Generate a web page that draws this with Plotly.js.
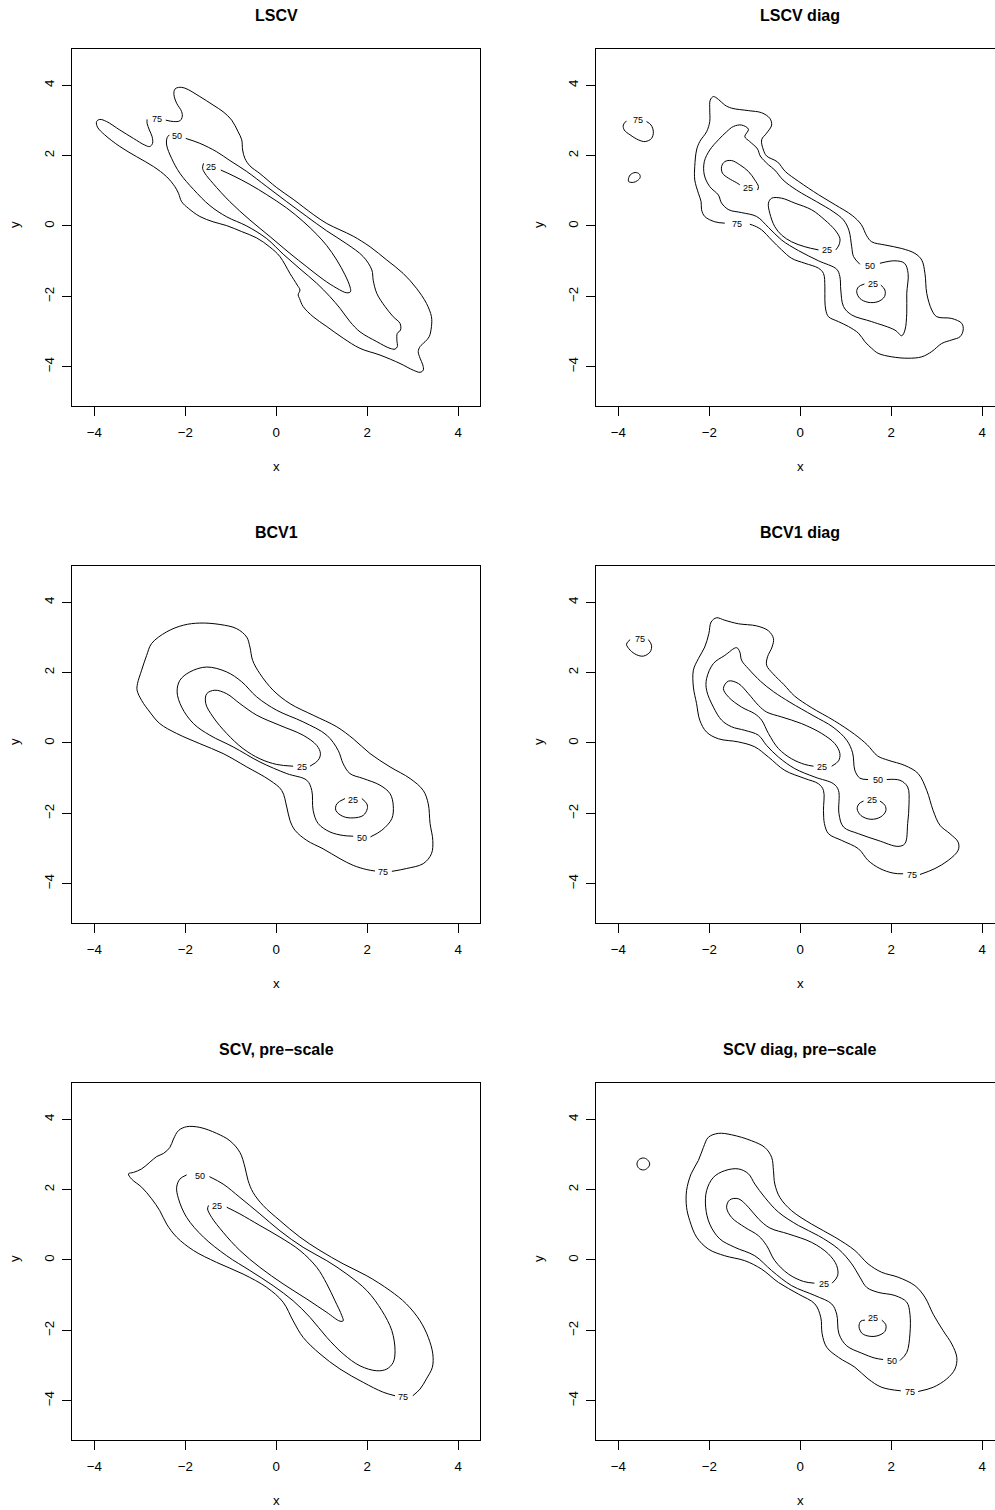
<!DOCTYPE html>
<html>
<head>
<meta charset="utf-8">
<script src="https://cdn.plot.ly/plotly-3.0.1.min.js"></script>
<style>html,body{margin:0;padding:0;background:#fff;}#chart{width:995px;height:1510px;}</style>
</head>
<body>
<div id="chart"></div>
<script>
// ---------- Panel titles and tick values ----------
const panelTitles = ["LSCV", "LSCV diag", "BCV1", "BCV1 diag", "SCV, pre\u2212scale", "SCV diag, pre\u2212scale"];
const tickValues = [-4, -2, 0, 2, 4];

// ---------- LSCV ----------
const lscv75x = [-2.43,-2.26,-2.12,-2.07,-2.08,-2.19,-2.25,-2.23,-2.15,-2.01,-1.68,-1.39,-1.17,-0.98,-0.84,-0.76,-0.74,-0.69,-0.58,-0.36,0.01,0.37,0.81,1.11,1.40,1.69,2.06,2.43,2.79,3.08,3.30,3.41,3.41,3.36,3.27,3.16,3.12,3.16,3.22,3.23,3.16,3.01,2.72,2.28,1.84,1.47,1.11,0.81,0.59,0.51,0.48,0.52,0.46,0.30,0.08,-0.14,-0.43,-0.76,-1.09,-1.39,-1.68,-1.93,-2.08,-2.15,-2.23,-2.41,-2.70,-3.07,-3.44,-3.77,-3.93,-3.95,-3.88,-3.73,-3.44,-3.14,-2.89,-2.78,-2.72,-2.73,-2.79,-2.84,-2.84];
const lscv75y = [3.01,2.97,2.99,3.09,3.25,3.49,3.73,3.89,3.94,3.92,3.68,3.44,3.25,3.01,2.68,2.45,2.16,1.92,1.71,1.49,1.09,0.76,0.33,0.07,-0.11,-0.29,-0.59,-0.97,-1.35,-1.77,-2.20,-2.58,-2.86,-3.15,-3.29,-3.43,-3.57,-3.76,-3.95,-4.10,-4.16,-4.10,-3.91,-3.67,-3.48,-3.19,-2.86,-2.58,-2.29,-2.06,-1.96,-1.82,-1.68,-1.35,-0.87,-0.60,-0.34,-0.16,0.01,0.12,0.27,0.50,0.69,0.93,1.12,1.40,1.69,1.97,2.26,2.59,2.81,2.97,3.03,2.97,2.73,2.49,2.30,2.26,2.35,2.54,2.73,2.92,3.03];
const lscv50x = [-1.99,-1.68,-1.31,-1.02,-0.65,-0.21,0.23,0.67,1.11,1.55,1.91,2.10,2.13,2.21,2.39,2.57,2.72,2.73,2.66,2.65,2.66,2.61,2.50,2.21,1.84,1.62,1.40,1.18,0.89,0.52,0.15,-0.21,-0.65,-1.09,-1.46,-1.82,-2.12,-2.30,-2.41,-2.40,-2.35];
const lscv50y = [2.49,2.35,2.11,1.86,1.55,1.12,0.69,0.27,-0.14,-0.51,-0.87,-1.25,-1.54,-1.92,-2.29,-2.58,-2.77,-2.96,-3.05,-3.24,-3.43,-3.50,-3.48,-3.29,-3.01,-2.72,-2.34,-2.01,-1.63,-1.22,-0.80,-0.36,0.00,0.26,0.58,1.04,1.50,1.92,2.30,2.51,2.59];
const lscv25x = [-1.22,-0.95,-0.58,-0.21,0.23,0.59,0.89,1.11,1.33,1.51,1.62,1.63,1.55,1.33,1.03,0.67,0.30,-0.14,-0.58,-1.02,-1.39,-1.57,-1.62,-1.60];
const lscv25y = [1.59,1.43,1.18,0.89,0.51,0.13,-0.24,-0.56,-0.97,-1.39,-1.73,-1.87,-1.90,-1.77,-1.52,-1.16,-0.78,-0.30,0.17,0.69,1.21,1.50,1.64,1.78];
const lscvLabelText = ["75","50","25"];
const lscvLabelX = [-2.63,-2.19,-1.44];
const lscvLabelY = [3.04,2.55,1.68];

// ---------- LSCV diag ----------
const lscvd75ax = [-1.11,-1.00,-0.85,-0.63,-0.41,-0.19,0.10,0.40,0.51,0.54,0.54,0.56,0.62,0.84,1.06,1.28,1.42,1.57,1.71,2.01,2.37,2.67,2.89,3.11,3.33,3.51,3.58,3.55,3.33,3.00,2.89,2.78,2.74,2.67,2.52,2.23,1.86,1.57,1.46,1.34,1.14,0.77,0.40,-0.04,-0.33,-0.50,-0.74,-0.81,-0.85,-0.74,-0.63,-0.67,-0.85,-1.14,-1.51,-1.66,-1.80,-1.91,-1.98,-1.99,-1.99,-2.06,-2.21,-2.28,-2.32,-2.32,-2.24,-2.18,-2.17,-2.10,-1.88,-1.66];
const lscvd75ay = [0.05,0.00,-0.11,-0.40,-0.68,-0.92,-1.06,-1.20,-1.35,-1.73,-2.10,-2.39,-2.58,-2.72,-2.86,-3.05,-3.29,-3.48,-3.62,-3.72,-3.76,-3.72,-3.57,-3.34,-3.24,-3.15,-2.96,-2.77,-2.63,-2.58,-2.39,-1.92,-1.35,-0.97,-0.78,-0.64,-0.54,-0.45,-0.28,0.04,0.30,0.60,0.89,1.27,1.55,1.82,1.99,2.16,2.45,2.64,2.87,3.06,3.22,3.28,3.35,3.44,3.60,3.68,3.58,3.30,2.97,2.68,2.40,2.16,1.69,1.31,0.93,0.69,0.46,0.27,0.12,0.08];
const lscvd75bx = [-3.38,-3.28,-3.23,-3.27,-3.41,-3.56,-3.74,-3.87,-3.89,-3.82];
const lscvd75by = [2.97,2.87,2.68,2.49,2.40,2.45,2.59,2.73,2.87,2.99];
const lscvd75cx = [-3.78,-3.74,-3.63,-3.54,-3.52,-3.58,-3.67,-3.77,-3.78];
const lscvd75cy = [1.31,1.45,1.52,1.48,1.38,1.29,1.24,1.26,1.31];
const lscvd50x = [1.75,2.08,2.29,2.37,2.34,2.34,2.30,2.23,2.08,1.57,1.13,0.95,0.89,0.87,0.80,0.40,-0.04,-0.41,-0.70,-0.96,-1.29,-1.57,-1.73,-1.80,-1.99,-2.11,-2.11,-1.99,-1.80,-1.62,-1.47,-1.29,-1.14,-1.22,-1.11,-0.94,-0.88,-0.70,-0.56,-0.38,-0.08,0.36,0.72,0.95,1.07,1.13,1.17,1.31];
const lscvd50y = [-1.06,-0.99,-1.06,-1.35,-1.92,-2.48,-2.96,-3.12,-2.96,-2.72,-2.53,-2.29,-1.82,-1.44,-1.23,-0.99,-0.70,-0.40,-0.04,0.27,0.38,0.46,0.65,0.88,1.12,1.45,1.83,2.16,2.45,2.68,2.83,2.87,2.75,2.54,2.40,2.19,1.99,1.74,1.59,1.31,1.02,0.69,0.41,0.17,-0.13,-0.59,-0.87,-1.09];
const lscvd25ax = [-0.94,-0.92,-1.00,-1.14,-1.33,-1.51,-1.66,-1.73,-1.71,-1.58,-1.40,-1.33];
const lscvd25ay = [1.02,1.12,1.31,1.55,1.74,1.86,1.83,1.69,1.50,1.36,1.23,1.17];
const lscvd25bx = [0.78,0.85,0.87,0.76,0.54,0.25,-0.12,-0.41,-0.63,-0.70,-0.67,-0.56,-0.41,-0.19,0.10,0.40];
const lscvd25by = [-0.68,-0.54,-0.35,-0.11,0.17,0.46,0.65,0.79,0.79,0.65,0.36,-0.02,-0.26,-0.45,-0.59,-0.68];
const lscvd25cx = [1.77,1.86,1.85,1.71,1.49,1.31,1.24,1.28,1.41];
const lscvd25cy = [-1.68,-1.82,-2.01,-2.15,-2.17,-2.06,-1.87,-1.73,-1.65];
const lscvdLabelText = ["75","75","25","25","50","25"];
const lscvdLabelX = [-3.56,-1.40,-1.14,0.58,1.53,1.60];
const lscvdLabelY = [3.00,0.05,1.07,-0.68,-1.13,-1.65];

// ---------- BCV1 ----------
const bcv75x = [2.54,2.86,3.23,3.41,3.44,3.38,3.34,3.23,2.94,2.50,2.06,1.69,1.33,0.81,0.30,-0.07,-0.36,-0.52,-0.58,-0.65,-0.87,-1.24,-1.68,-2.04,-2.41,-2.74,-2.85,-2.96,-3.05,-3.06,-2.96,-2.78,-2.56,-2.19,-1.68,-1.17,-0.65,-0.14,0.12,0.23,0.30,0.41,0.67,1.03,1.40,1.69,1.99,2.17];
const bcv75y = [-3.65,-3.57,-3.43,-3.15,-2.77,-2.29,-1.73,-1.35,-1.01,-0.68,-0.30,0.12,0.46,0.79,1.12,1.50,1.97,2.35,2.73,3.01,3.25,3.37,3.41,3.35,3.16,2.83,2.49,2.07,1.69,1.50,1.21,0.88,0.55,0.27,-0.02,-0.30,-0.68,-1.06,-1.35,-1.82,-2.20,-2.48,-2.77,-3.01,-3.29,-3.48,-3.60,-3.64];
const bcv50x = [2.07,2.32,2.54,2.57,2.50,2.28,1.91,1.62,1.47,1.36,1.11,0.59,0.01,-0.43,-0.76,-1.09,-1.53,-1.90,-2.12,-2.18,-2.08,-1.82,-1.46,-0.95,-0.36,0.23,0.67,0.78,0.81,0.92,1.18,1.47,1.69];
const bcv50y = [-2.67,-2.48,-2.15,-1.77,-1.44,-1.20,-1.01,-0.87,-0.59,-0.21,0.22,0.60,0.93,1.31,1.74,2.02,2.16,2.02,1.78,1.45,1.02,0.55,0.22,-0.11,-0.54,-0.87,-1.06,-1.35,-1.92,-2.29,-2.53,-2.63,-2.65];
const bcv25ax = [0.74,0.92,0.97,0.89,0.59,0.08,-0.43,-0.80,-1.09,-1.35,-1.53,-1.55,-1.39,-1.09,-0.73,-0.36,0.01,0.37];
const bcv25ay = [-0.66,-0.49,-0.30,-0.07,0.22,0.50,0.79,1.12,1.40,1.50,1.40,1.12,0.74,0.27,-0.16,-0.45,-0.61,-0.66];
const bcv25bx = [1.88,1.99,2.00,1.91,1.69,1.47,1.31,1.33,1.51];
const bcv25by = [-1.58,-1.73,-1.87,-2.06,-2.13,-2.09,-1.92,-1.73,-1.58];
const bcvLabelText = ["75","50","25","25"];
const bcvLabelX = [2.35,1.88,0.56,1.69];
const bcvLabelY = [-3.67,-2.69,-0.68,-1.61];

// ---------- BCV1 diag ----------
const bcvd75ax = [-3.34,-3.27,-3.30,-3.45,-3.60,-3.74,-3.82,-3.74];
const bcvd75ay = [2.94,2.78,2.59,2.47,2.51,2.64,2.81,2.94];
const bcvd75bx = [2.63,2.96,3.25,3.47,3.47,3.29,3.07,2.92,2.78,2.59,2.30,1.93,1.70,1.47,1.19,0.75,0.24,-0.13,-0.36,-0.60,-0.74,-0.72,-0.62,-0.59,-0.70,-0.96,-1.36,-1.66,-1.84,-1.96,-2.01,-2.10,-2.24,-2.35,-2.35,-2.28,-2.21,-2.06,-1.80,-1.36,-1.00,-0.70,-0.34,0.10,0.40,0.51,0.51,0.53,0.62,0.91,1.28,1.49,1.75,2.04,2.26];
const bcvd75by = [-3.74,-3.57,-3.34,-3.05,-2.82,-2.58,-2.34,-1.92,-1.35,-0.87,-0.64,-0.49,-0.37,-0.05,0.25,0.63,1.01,1.34,1.66,1.97,2.21,2.45,2.73,2.97,3.19,3.33,3.39,3.49,3.56,3.44,3.11,2.73,2.40,2.07,1.59,1.12,0.65,0.31,0.12,0.03,-0.11,-0.40,-0.78,-1.01,-1.16,-1.35,-1.92,-2.29,-2.58,-2.77,-3.01,-3.34,-3.57,-3.70,-3.72];
const bcvd50x = [1.90,2.19,2.36,2.39,2.36,2.30,2.15,1.71,1.28,0.95,0.85,0.84,0.73,0.32,-0.12,-0.48,-0.74,-0.92,-1.22,-1.51,-1.73,-1.91,-2.06,-2.06,-1.91,-1.66,-1.40,-1.33,-1.29,-1.14,-0.87,-0.59,-0.23,0.28,0.72,1.02,1.15,1.20,1.31,1.49];
const bcvd50y = [-1.04,-1.06,-1.25,-1.73,-2.29,-2.86,-2.94,-2.77,-2.58,-2.39,-2.01,-1.35,-1.16,-0.97,-0.73,-0.40,-0.07,0.22,0.36,0.46,0.65,1.02,1.50,1.83,2.26,2.49,2.71,2.59,2.35,2.11,1.75,1.46,1.16,0.78,0.45,0.08,-0.28,-0.78,-1.00,-1.04];
const bcvd25ax = [0.69,0.84,0.87,0.76,0.47,0.03,-0.41,-0.74,-0.92,-1.14,-1.36,-1.58,-1.69,-1.58,-1.29,-1.00,-0.85,-0.70,-0.48,-0.19,0.10,0.29];
const bcvd25ay = [-0.66,-0.51,-0.30,-0.02,0.27,0.55,0.74,0.88,1.07,1.40,1.69,1.76,1.55,1.31,1.02,0.83,0.65,0.27,-0.16,-0.45,-0.61,-0.66];
const bcvd25bx = [1.75,1.86,1.88,1.77,1.55,1.33,1.25,1.29,1.39];
const bcvd25by = [-1.65,-1.77,-1.93,-2.10,-2.17,-2.06,-1.87,-1.73,-1.65];
const bcvdLabelText = ["75","75","50","25","25"];
const bcvdLabelX = [-3.52,2.45,1.70,0.48,1.57];
const bcvdLabelY = [2.97,-3.76,-1.06,-0.68,-1.63];

// ---------- SCV, pre-scale ----------
const scv75x = [3.00,3.16,3.30,3.43,3.44,3.34,3.16,2.86,2.50,1.99,1.47,0.96,0.52,0.08,-0.29,-0.51,-0.62,-0.69,-0.80,-1.02,-1.31,-1.68,-1.97,-2.15,-2.26,-2.34,-2.48,-2.63,-2.78,-2.96,-3.14,-3.25,-3.18,-2.96,-2.74,-2.56,-2.41,-2.19,-1.82,-1.31,-0.73,-0.21,0.15,0.37,0.59,0.96,1.40,1.91,2.35,2.61];
const scv75y = [-3.86,-3.67,-3.38,-3.05,-2.67,-2.20,-1.73,-1.25,-0.87,-0.45,-0.11,0.27,0.65,1.12,1.55,1.92,2.26,2.64,3.06,3.39,3.60,3.77,3.79,3.68,3.44,3.20,3.03,2.94,2.78,2.59,2.49,2.45,2.30,2.07,1.74,1.40,1.02,0.65,0.27,-0.07,-0.40,-0.78,-1.20,-1.73,-2.20,-2.67,-3.10,-3.48,-3.76,-3.86];
const scv50x = [-1.47,-1.17,-0.80,-0.36,0.08,0.59,1.11,1.55,1.99,2.32,2.54,2.61,2.57,2.43,2.21,1.84,1.47,1.11,0.74,0.37,-0.07,-0.58,-1.09,-1.60,-1.97,-2.15,-2.19,-2.12,-1.97];
const scv50y = [2.37,2.16,1.78,1.31,0.83,0.36,-0.02,-0.40,-0.87,-1.44,-2.01,-2.58,-2.91,-3.10,-3.15,-3.01,-2.67,-2.20,-1.63,-1.16,-0.73,-0.30,0.12,0.65,1.21,1.74,2.07,2.30,2.42];
const scv25x = [-1.09,-0.80,-0.36,0.08,0.52,0.89,1.11,1.29,1.44,1.47,1.40,1.11,0.67,0.15,-0.36,-0.80,-1.17,-1.42,-1.51,-1.49];
const scv25y = [1.50,1.31,0.98,0.65,0.27,-0.21,-0.68,-1.16,-1.58,-1.73,-1.74,-1.49,-1.11,-0.68,-0.21,0.27,0.79,1.21,1.45,1.55];
const scvLabelText = ["75","50","25"];
const scvLabelX = [2.79,-1.68,-1.30];
const scvLabelY = [-3.89,2.40,1.53];

// ---------- SCV diag, pre-scale ----------
const scvd75ax = [-3.31,-3.36,-3.45,-3.55,-3.59,-3.55,-3.45,-3.36,-3.31];
const scvd75ay = [2.73,2.85,2.90,2.85,2.73,2.61,2.56,2.61,2.73];
const scvd75bx = [2.59,2.92,3.22,3.40,3.44,3.33,3.14,2.92,2.74,2.52,2.15,1.79,1.49,1.20,0.76,0.25,-0.19,-0.45,-0.56,-0.59,-0.63,-0.78,-1.07,-1.51,-1.80,-2.02,-2.13,-2.24,-2.40,-2.50,-2.50,-2.43,-2.28,-2.02,-1.66,-1.22,-0.85,-0.48,-0.04,0.32,0.45,0.48,0.58,0.84,1.20,1.49,1.79,2.21];
const scvd75by = [-3.74,-3.62,-3.38,-3.10,-2.77,-2.39,-2.01,-1.54,-1.06,-0.73,-0.49,-0.35,-0.11,0.27,0.65,1.02,1.40,1.78,2.16,2.54,2.92,3.20,3.39,3.56,3.60,3.49,3.20,2.83,2.45,1.97,1.50,1.12,0.65,0.31,0.12,-0.02,-0.26,-0.64,-0.97,-1.25,-1.63,-2.10,-2.48,-2.77,-3.05,-3.38,-3.62,-3.72];
const scvd50x = [2.19,2.34,2.41,2.41,2.34,2.08,1.71,1.46,1.31,1.13,0.84,0.40,-0.04,-0.48,-0.78,-1.00,-1.14,-1.36,-1.66,-1.91,-2.06,-2.08,-1.99,-1.77,-1.44,-1.00,-0.63,-0.19,0.32,0.69,0.80,0.85,1.02,1.35,1.64,1.82];
const scvd50y = [-2.86,-2.63,-2.10,-1.54,-1.20,-1.01,-0.92,-0.78,-0.49,-0.11,0.31,0.69,0.98,1.36,1.78,2.16,2.45,2.59,2.54,2.35,1.97,1.50,1.02,0.60,0.36,0.12,-0.30,-0.73,-1.01,-1.25,-1.54,-2.10,-2.44,-2.65,-2.79,-2.83];
const scvd25ax = [0.70,0.82,0.80,0.62,0.25,-0.26,-0.67,-0.92,-1.14,-1.36,-1.55,-1.62,-1.51,-1.22,-0.92,-0.74,-0.56,-0.26,0.07,0.31];
const scvd25ay = [-0.66,-0.45,-0.16,0.17,0.50,0.74,0.91,1.17,1.50,1.74,1.71,1.50,1.21,0.93,0.69,0.41,-0.02,-0.40,-0.61,-0.66];
const scvd25bx = [1.79,1.88,1.86,1.71,1.53,1.36,1.29,1.33,1.42];
const scvd25by = [-1.71,-1.84,-2.03,-2.15,-2.17,-2.09,-1.89,-1.74,-1.71];
const scvdLabelText = ["75","50","25","25"];
const scvdLabelX = [2.41,2.01,0.51,1.60];
const scvdLabelY = [-3.76,-2.88,-0.68,-1.65];

// ---------- assemble panels ----------
const panels = [
  {lines: [[lscv75x,lscv75y],[lscv50x,lscv50y],[lscv25x,lscv25y]], lt: lscvLabelText, lx: lscvLabelX, ly: lscvLabelY},
  {lines: [[lscvd75ax,lscvd75ay],[lscvd75bx,lscvd75by],[lscvd75cx,lscvd75cy],[lscvd50x,lscvd50y],[lscvd25ax,lscvd25ay],[lscvd25bx,lscvd25by],[lscvd25cx,lscvd25cy]], lt: lscvdLabelText, lx: lscvdLabelX, ly: lscvdLabelY},
  {lines: [[bcv75x,bcv75y],[bcv50x,bcv50y],[bcv25ax,bcv25ay],[bcv25bx,bcv25by]], lt: bcvLabelText, lx: bcvLabelX, ly: bcvLabelY},
  {lines: [[bcvd75ax,bcvd75ay],[bcvd75bx,bcvd75by],[bcvd50x,bcvd50y],[bcvd25ax,bcvd25ay],[bcvd25bx,bcvd25by]], lt: bcvdLabelText, lx: bcvdLabelX, ly: bcvdLabelY},
  {lines: [[scv75x,scv75y],[scv50x,scv50y],[scv25x,scv25y]], lt: scvLabelText, lx: scvLabelX, ly: scvLabelY},
  {lines: [[scvd75ax,scvd75ay],[scvd75bx,scvd75by],[scvd50x,scvd50y],[scvd25ax,scvd25ay],[scvd25bx,scvd25by]], lt: scvdLabelText, lx: scvdLabelX, ly: scvdLabelY}
];

const W = 995, H = 1510;
const FONT = "Liberation Sans, Arial, Helvetica, sans-serif";
const colLeft = [72.3, 596.3];
const boxW = 408;
const rowTop = [49.3, 566.3, 1083.3];
const boxH = 356.4;
const xFull = [-4.484, 4.484];
const yFull = [-5.11, 5.024];

const traces = [];
const layout = {
  width: W, height: H,
  margin: {l: 0, r: 0, t: 0, b: 0},
  paper_bgcolor: "#fff", plot_bgcolor: "#fff",
  showlegend: false,
  font: {family: FONT, color: "#000"},
  annotations: []
};

panels.forEach((p, i) => {
  const col = i % 2, row = Math.floor(i / 2);
  const ax = i === 0 ? "" : String(i + 1);
  const left = colLeft[col];
  const right = Math.min(left + boxW, W);
  const xr = col === 0 ? xFull : [xFull[0], xFull[0] + (right - left) / boxW * (xFull[1] - xFull[0])];
  const top = rowTop[row], bottom = top + boxH;
  const common = {
    ticks: "outside", ticklen: 9, tickwidth: 1, tickcolor: "#000",
    showline: true, linecolor: "#000", linewidth: 1,
    showgrid: false, zeroline: false, fixedrange: true,
    tickvals: tickValues,
    tickfont: {family: FONT, size: 13.3, color: "#000"}
  };
  layout["xaxis" + ax] = Object.assign({}, common, {
    domain: [left / W, right / W], range: xr, anchor: "y" + ax,
    mirror: true, ticklabelstandoff: 5
  });
  layout["yaxis" + ax] = Object.assign({}, common, {
    domain: [1 - bottom / H, 1 - top / H], range: yFull, anchor: "x" + ax,
    mirror: col === 0, tickangle: -90, ticklabelstandoff: 3
  });
  p.lines.forEach(([xs, ys]) => {
    traces.push({
      type: "scatter", mode: "lines", x: xs, y: ys,
      xaxis: "x" + ax, yaxis: "y" + ax,
      line: {color: "#000", width: 1, shape: "spline", smoothing: 1},
      hoverinfo: "skip"
    });
  });
  p.lt.forEach((t, k) => {
    layout.annotations.push({
      xref: "x" + ax, yref: "y" + ax, x: p.lx[k], y: p.ly[k], text: t,
      showarrow: false, font: {family: FONT, size: 9, color: "#000"},
      xanchor: "center", yanchor: "middle", borderpad: 0
    });
  });
  const cx = (colLeft[col] + boxW / 2) / W;
  layout.annotations.push({
    xref: "paper", yref: "paper", x: cx, y: 1 - (top - 33.6) / H,
    text: "<b>" + panelTitles[i] + "</b>", showarrow: false,
    font: {family: FONT, size: 16, color: "#000"}, xanchor: "center", yanchor: "middle"
  });
  layout.annotations.push({
    xref: "paper", yref: "paper", x: cx, y: 1 - (bottom + 61) / H,
    text: "x", showarrow: false,
    font: {family: FONT, size: 13.3, color: "#000"}, xanchor: "center", yanchor: "middle"
  });
  layout.annotations.push({
    xref: "paper", yref: "paper", x: (left - 57.3) / W, y: 1 - (top + boxH / 2 - 2.6) / H,
    text: "y", showarrow: false, textangle: -90,
    font: {family: FONT, size: 13.3, color: "#000"}, xanchor: "center", yanchor: "middle"
  });
});

Plotly.newPlot("chart", traces, layout, {displayModeBar: false, staticPlot: true});
</script>
</body>
</html>
